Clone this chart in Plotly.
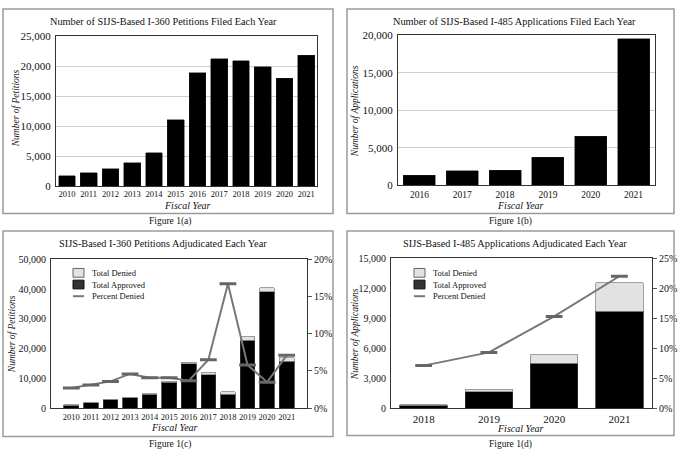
import plotly.graph_objects as go

# ---------------- data ----------------
years_a = ['2010', '2011', '2012', '2013', '2014', '2015', '2016', '2017',
           '2018', '2019', '2020', '2021']
filed_i360 = [1700, 2200, 2900, 3900, 5600, 11100, 18900, 21200, 20900, 19900, 18000, 21800]

years_b = ['2016', '2017', '2018', '2019', '2020', '2021']
filed_i485 = [1300, 1900, 2000, 3700, 6500, 19500]

years_c = years_a
approved_i360 = [1000, 1900, 2800, 3500, 4700, 8700, 14900, 11300, 4600, 22800, 39000, 15800]
denied_i360 = [100, 100, 100, 100, 100, 300, 600, 800, 1000, 1400, 1400, 1200]
pct_denied_i360 = [0.027, 0.031, 0.036, 0.046, 0.041, 0.041, 0.037, 0.065, 0.167, 0.058, 0.035, 0.071]

years_d = ['2018', '2019', '2020', '2021']
approved_i485 = [280, 1650, 4500, 9700]
denied_i485 = [40, 230, 850, 2850]
pct_denied_i485 = [0.071, 0.093, 0.153, 0.220]

legend_labels = ['Total Denied', 'Total Approved', 'Percent Denied']

FONT = 'Liberation Serif'
W, H = 680, 459
DENIED_FILL = '#e2e2e2'
DENIED_EDGE = '#888'
LINE_GREY = '#777'

fig = go.Figure()

# (a)
fig.add_trace(go.Bar(x=years_a, y=filed_i360, xaxis='x', yaxis='y', width=0.77,
                     marker=dict(color='black', line=dict(color='#222', width=0.5))))
# (b)
fig.add_trace(go.Bar(x=years_b, y=filed_i485, xaxis='x2', yaxis='y2', width=0.75,
                     marker=dict(color='black', line=dict(color='#222', width=0.5))))

# (c)
fig.add_trace(go.Bar(x=years_c, y=approved_i360, xaxis='x3', yaxis='y3', width=0.75,
                     marker=dict(color='black', line=dict(color='#333', width=0.8))))
fig.add_trace(go.Bar(x=years_c, y=denied_i360, xaxis='x3', yaxis='y3', width=0.75,
                     marker=dict(color=DENIED_FILL, line=dict(color=DENIED_EDGE, width=0.8))))
fig.add_trace(go.Scatter(x=years_c, y=pct_denied_i360, xaxis='x3', yaxis='y4',
                         mode='lines+markers', line=dict(color=LINE_GREY, width=2),
                         marker=dict(symbol='line-ew', size=12,
                                     line=dict(color='#666', width=3))))

# (d)
fig.add_trace(go.Bar(x=years_d, y=approved_i485, xaxis='x4', yaxis='y5', width=0.73,
                     marker=dict(color='black', line=dict(color='#333', width=0.8))))
fig.add_trace(go.Bar(x=years_d, y=denied_i485, xaxis='x4', yaxis='y5', width=0.73,
                     marker=dict(color=DENIED_FILL, line=dict(color=DENIED_EDGE, width=0.8))))
fig.add_trace(go.Scatter(x=years_d, y=pct_denied_i485, xaxis='x4', yaxis='y6',
                         mode='lines+markers', line=dict(color=LINE_GREY, width=2),
                         marker=dict(symbol='line-ew', size=12,
                                     line=dict(color='#666', width=3))))


def px(xl, xr, yt, yb):
    return [xl / W, xr / W], [1 - yb / H, 1 - yt / H]


dom_a = px(56, 317, 31, 185)
dom_b = px(398, 655, 30, 184)
dom_c = px(51, 307, 260, 413)
dom_d = px(391, 652, 259, 413)

xbase = dict(showline=True, linecolor='#333', linewidth=1.2, mirror=True,
             ticks='', showgrid=False)
ybase = dict(showline=True, linecolor='#333', linewidth=1.2, mirror=True,
             ticks='', tickformat=',d', zeroline=False, ticklabelstandoff=2)
ybase_right = dict(side='right', tickformat='.0%', showgrid=False, zeroline=False,
                   ticks='outside', ticklen=4, tickcolor='#555', ticklabelstandoff=0,
                   tickfont=dict(size=10, color='#111'))

fig.update_layout(
    width=W, height=H, margin=dict(l=0, r=0, t=0, b=0),
    paper_bgcolor='white', plot_bgcolor='white',
    font=dict(family=FONT, color='#222'),
    barmode='stack', showlegend=False,
    xaxis=dict(xbase, domain=dom_a[0], anchor='y', tickfont=dict(size=8.5, color='#111')),
    yaxis=dict(ybase, domain=dom_a[1], anchor='x', range=[0, 25000], dtick=5000,
               showgrid=True, gridcolor='#cfcfcf', tickfont=dict(size=11, color='#111')),
    xaxis2=dict(xbase, domain=dom_b[0], anchor='y2', tickfont=dict(size=9.5, color='#111')),
    yaxis2=dict(ybase, domain=dom_b[1], anchor='x2', range=[0, 20000], dtick=5000,
                showgrid=True, gridcolor='#cfcfcf', tickfont=dict(size=11, color='#111')),
    xaxis3=dict(xbase, domain=dom_c[0], anchor='y3', tickfont=dict(size=8.5, color='#111')),
    yaxis3=dict(ybase, domain=dom_c[1], anchor='x3', range=[0, 50000], dtick=10000,
                showgrid=False, tickfont=dict(size=10, color='#111')),
    yaxis4=dict(ybase_right, domain=dom_c[1], anchor='x3', overlaying='y3',
                range=[0, 0.2], dtick=0.05),
    xaxis4=dict(xbase, domain=dom_d[0], anchor='y5', tickfont=dict(size=11, color='#111')),
    yaxis5=dict(ybase, domain=dom_d[1], anchor='x4', range=[0, 15000], dtick=3000,
                showgrid=False, tickfont=dict(size=10, color='#111')),
    yaxis6=dict(ybase_right, domain=dom_d[1], anchor='x4', overlaying='y5',
                range=[0, 0.25], dtick=0.05),
)

# panel frames
frames = [(3, 333, 3, 213), (347, 674, 3, 213), (3, 333, 231, 442), (347, 674, 231, 441)]
for x0, x1, y0, y1 in frames:
    fig.add_shape(type='rect', xref='paper', yref='paper',
                  x0=x0 / W, x1=x1 / W, y0=1 - y1 / H, y1=1 - y0 / H,
                  line=dict(color='#9a9a9a', width=1.5))


def note(text, x, y, size, angle=0, italic=False, anchor='center'):
    fig.add_annotation(text=text, x=x / W, y=1 - y / H, xref='paper', yref='paper',
                       showarrow=False, xanchor=anchor, yanchor='middle', textangle=angle,
                       font=dict(size=size, color='#111',
                                 style='italic' if italic else 'normal'))


titles = [
    ('Number of SIJS-Based I-360 Petitions Filed Each Year', 163, 16),
    ('Number of SIJS-Based I-485 Applications Filed Each Year', 514, 16),
    ('SIJS-Based I-360 Petitions Adjudicated Each Year', 163, 244),
    ('SIJS-Based I-485 Applications Adjudicated Each Year', 515, 244),
]
for text, x, y in titles:
    note(text, x, y, 10.3)

captions = [('Figure 1(a)', 170, 221), ('Figure 1(b)', 510, 221),
            ('Figure 1(c)', 170, 450), ('Figure 1(d)', 510, 450)]
for text, x, y in captions:
    note(text, x, y, 9.5)

# axis titles
note('Number of Petitions', 16, 105, 9.5, angle=-90, italic=True)
note('Number of Applications', 355, 108, 9.5, angle=-90, italic=True)
note('Number of Petitions', 12, 337, 9.5, angle=-90, italic=True)
note('Number of Applications', 355, 337, 9.5, angle=-90, italic=True)
for x, y in [(187, 205), (520, 205), (175, 433), (520, 434)]:
    note('Fiscal Year', x, y, 10, italic=True)

# hand-drawn legends for (c) and (d)
for lx in (73, 414):
    rows = [274, 286, 298]
    # denied swatch
    fig.add_shape(type='rect', xref='paper', yref='paper',
                  x0=lx / W, x1=(lx + 11) / W, y0=1 - (rows[0] + 4.5) / H, y1=1 - (rows[0] - 4.5) / H,
                  fillcolor=DENIED_FILL, line=dict(color='#666', width=1))
    # approved swatch
    fig.add_shape(type='rect', xref='paper', yref='paper',
                  x0=lx / W, x1=(lx + 11) / W, y0=1 - (rows[1] + 4.5) / H, y1=1 - (rows[1] - 4.5) / H,
                  fillcolor='#333', line=dict(color='#111', width=1))
    # percent line
    fig.add_shape(type='line', xref='paper', yref='paper',
                  x0=lx / W, x1=(lx + 11) / W, y0=1 - rows[2] / H, y1=1 - rows[2] / H,
                  line=dict(color=LINE_GREY, width=2))
    for label, ry in zip(legend_labels, rows):
        note(label, lx + 17, ry, 8.5, anchor='left')

# the page's default 8px body margin would shift the fixed-size figure
fig.write_html("out.html", config={'displayModeBar': False},
               post_script="document.body.style.margin='0';")
